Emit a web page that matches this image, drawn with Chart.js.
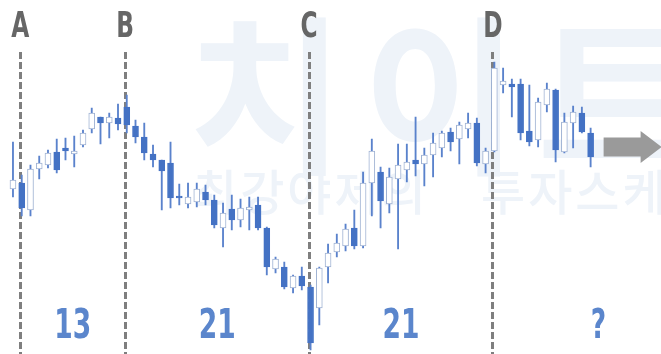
<!DOCTYPE html>
<html>
<head>
<meta charset="utf-8">
<script src="https://cdn.jsdelivr.net/npm/chart.js"></script>
<style>
  html, body { margin: 0; padding: 0; background: #fff; }
  #wrap { width: 661px; height: 354px; position: relative; }
</style>
</head>
<body>
<div id="wrap"><canvas id="candleChart"></canvas></div>
<script>
// candle data (arbitrary price units)
const openVals  = [171,177,150,191,195,208,212,206,215,231,243,237,242,253,234,223,206,200,197,164,156,158,168,160,132,151,140,150,155,132,91,93,72,84,73,52,93,108,114,132,114,177,188,156,181,190,200,196,205,212,228,221,231,237,196,209,275,276,276,229,220,255,270,208,237,247,227];
const closeVals = [180,152,191,197,207,190,209,209,227,247,237,243,236,235,223,207,200,189,162,162,163,171,160,135,147,140,152,153,132,93,101,73,84,74,17,92,107,117,131,114,177,209,159,183,195,198,196,205,217,227,218,235,237,197,209,292,279,273,227,218,258,271,210,238,248,228,203];
const highVals  = [218,185,195,204,210,221,222,224,230,252,243,247,256,265,240,237,215,200,218,176,177,177,175,165,157,165,161,163,163,133,103,98,85,93,75,93,116,126,136,150,188,221,193,192,216,216,243,212,227,229,232,238,247,242,212,298,292,281,281,275,262,277,271,247,254,253,232];
const lowVals   = [163,144,144,181,192,187,200,193,213,227,216,222,230,227,217,200,193,150,152,155,152,153,155,132,113,130,133,130,130,85,87,71,67,70,10,35,77,103,109,111,112,144,132,147,111,178,184,174,183,203,209,196,222,194,187,208,267,243,220,214,213,248,198,207,212,227,193];

const dayLabels = openVals.map((v, i) => String(i + 1));

// marked points and candle counts between them
const markLetters = ['A', 'B', 'C', 'D'];
const markIndex = [1, 13, 34, 55];
const countLabels = ['13', '21', '21', '?'];

const BLUE = '#4472c4';
const WICK = '#5a82cc';
const UPLINE = '#9fb2d3';

const isUp = openVals.map((o, i) => closeVals[i] >= o);
const bodies = openVals.map((o, i) => [o, closeVals[i]]);
const wicks = lowVals.map((l, i) => [l, highVals[i]]);

const overlay = {
  id: 'overlay',
  beforeDatasetsDraw(chart) {
    const ctx = chart.ctx;
    const x = chart.scales.x;
    ctx.save();
    // watermark
    ctx.fillStyle = '#eef3f9';
    ctx.textBaseline = 'alphabetic';
    ctx.font = '700 170px "Noto Sans CJK KR"';
    ctx.letterSpacing = '18px';
    ctx.fillText('치이트', 188, 161);
    ctx.font = '500 48px "Noto Sans CJK KR"';
    ctx.letterSpacing = '3px';
    ctx.fillText('최강야제의', 193, 210);
    ctx.fillText('투자스케치', 481, 210);
    ctx.letterSpacing = '0px';

    // dashed marker lines
    ctx.strokeStyle = '#7f7f7f';
    ctx.lineWidth = 3;
    ctx.setLineDash([7, 3]);
    markIndex.forEach(i => {
      const px = Math.round(x.getPixelForValue(i)) - 1.5;
      ctx.beginPath();
      ctx.moveTo(px, 52);
      ctx.lineTo(px, 354);
      ctx.stroke();
    });
    ctx.setLineDash([]);
    ctx.restore();
  },
  afterDatasetsDraw(chart) {
    const ctx = chart.ctx;
    const x = chart.scales.x;
    const y = chart.scales.y;
    ctx.save();
    ctx.textAlign = 'center';
    ctx.textBaseline = 'alphabetic';

    // letters
    ctx.fillStyle = '#666666';
    ctx.font = 'bold 36px "Liberation Sans Narrow", "DejaVu Sans Condensed"';
    markLetters.forEach((t, k) => {
      const px = x.getPixelForValue(markIndex[k]) - 1.5;
      ctx.save();
      ctx.translate(px, 37);
      ctx.scale(0.72, 1);
      ctx.fillText(t, 0, 0);
      ctx.restore();
    });

    // counts
    ctx.fillStyle = '#5b86cc';
    ctx.font = 'bold 41px "Liberation Sans Narrow", "DejaVu Sans Condensed"';
    const bounds = markIndex.map(i => x.getPixelForValue(i) - 1.5);
    bounds.push(chart.width + 43);
    countLabels.forEach((t, k) => {
      const cx = (bounds[k] + bounds[k + 1]) / 2;
      ctx.save();
      ctx.translate(cx, 338);
      ctx.scale(0.72, 1);
      ctx.fillText(t, 0, 0);
      ctx.restore();
    });

    // arrow to the right of the last candle
    const last = openVals.length - 1;
    const ax = x.getPixelForValue(last) + 13;
    const ay = y.getPixelForValue(closeVals[last] + 10);
    ctx.fillStyle = '#9a9a9a';
    ctx.beginPath();
    ctx.moveTo(ax, ay - 9.5);
    ctx.lineTo(ax + 37, ay - 9.5);
    ctx.lineTo(ax + 37, ay - 16);
    ctx.lineTo(ax + 58, ay);
    ctx.lineTo(ax + 37, ay + 16);
    ctx.lineTo(ax + 37, ay + 9.5);
    ctx.lineTo(ax, ay + 9.5);
    ctx.closePath();
    ctx.fill();
    ctx.restore();
  }
};

new Chart(document.getElementById('candleChart'), {
  type: 'bar',
  data: {
    labels: dayLabels,
    datasets: [
      {
        label: 'body',
        data: bodies,
        backgroundColor: isUp.map(u => u ? '#ffffff' : BLUE),
        borderColor: isUp.map(u => u ? UPLINE : BLUE),
        borderWidth: 1,
        borderSkipped: false,
        barThickness: 6,
        grouped: false,
        order: 0
      },
      {
        label: 'wick',
        data: wicks,
        backgroundColor: WICK,
        borderWidth: 0,
        barThickness: 1.2,
        grouped: false,
        order: 1
      }
    ]
  },
  plugins: [overlay],
  options: {
    responsive: true,
    maintainAspectRatio: false,
    animation: false,
    layout: { padding: { left: 8.6, right: 66, top: 0, bottom: 0 } },
    plugins: {
      legend: { display: false },
      tooltip: { enabled: false }
    },
    scales: {
      x: { display: false, offset: true },
      y: { display: false, min: 6, max: 360 }
    }
  }
});
</script>
</body>
</html>
